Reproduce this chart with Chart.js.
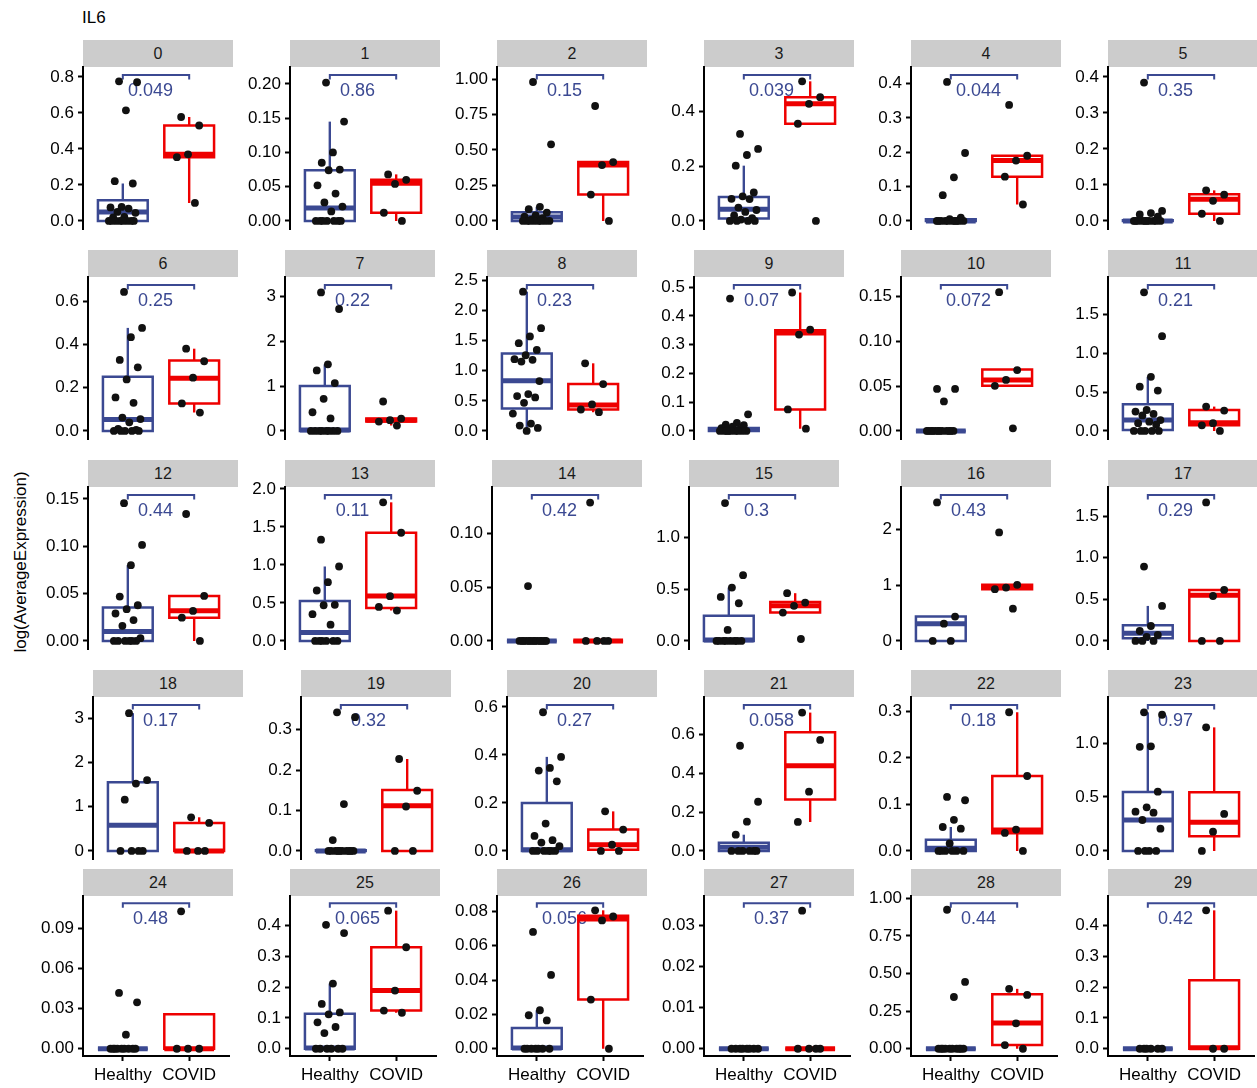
<!DOCTYPE html>
<html><head><meta charset="utf-8">
<script src="https://cdn.jsdelivr.net/npm/chart.js@4.4.0/dist/chart.umd.min.js"></script>
<style>
html,body{margin:0;padding:0;background:#fff;}
body{width:1257px;height:1088px;position:relative;overflow:hidden;font-family:"Liberation Sans",Arial,Helvetica,sans-serif;}
.strip{position:absolute;background:#cccccc;color:#1a1a1a;font-size:16px;text-align:center;height:27px;line-height:27px;}
.cv{position:absolute;}
#title{position:absolute;left:82px;top:8px;font-size:17px;line-height:20px;color:#000;}
#ytitle{position:absolute;left:21px;top:562px;font-size:17px;color:#000;white-space:nowrap;transform:translate(-50%,-50%) rotate(-90deg);}
</style></head><body>
<div id="title">IL6</div>
<div id="ytitle">log(AverageExpression)</div>
<script>
// ---------------- DATA ----------------
const clusters = ['0','1','2','3','4','5','6','7','8','9','10','11','12','13','14','15','16','17','18','19','20','21','22','23','24','25','26','27','28','29'];
const groups = ['Healthy','COVID'];
const pValues = ['0.049','0.86','0.15','0.039','0.044','0.35','0.25','0.22','0.23','0.07','0.072','0.21','0.44','0.11','0.42','0.3','0.43','0.29','0.17','0.32','0.27','0.058','0.18','0.97','0.48','0.065','0.056','0.37','0.44','0.42'];
const bracketY = [0.81,0.213,1.028,0.533,0.425,0.405,0.674,3.254,2.42,0.507,0.163,1.879,0.154,1.92,0.136,1.405,2.617,1.753,3.293,0.361,0.608,0.753,0.3135,1.352,0.109,0.473,0.0847,0.0355,0.967,0.473];
const yTickLabels = [
 ['0.0','0.2','0.4','0.6','0.8'],['0.00','0.05','0.10','0.15','0.20'],['0.00','0.25','0.50','0.75','1.00'],['0.0','0.2','0.4'],['0.0','0.1','0.2','0.3','0.4'],['0.0','0.1','0.2','0.3','0.4'],
 ['0.0','0.2','0.4','0.6'],['0','1','2','3'],['0.0','0.5','1.0','1.5','2.0','2.5'],['0.0','0.1','0.2','0.3','0.4','0.5'],['0.00','0.05','0.10','0.15'],['0.0','0.5','1.0','1.5'],
 ['0.00','0.05','0.10','0.15'],['0.0','0.5','1.0','1.5','2.0'],['0.00','0.05','0.10'],['0.0','0.5','1.0'],['0','1','2'],['0.0','0.5','1.0','1.5'],
 ['0','1','2','3'],['0.0','0.1','0.2','0.3'],['0.0','0.2','0.4','0.6'],['0.0','0.2','0.4','0.6'],['0.0','0.1','0.2','0.3'],['0.0','0.5','1.0'],
 ['0.00','0.03','0.06','0.09'],['0.0','0.1','0.2','0.3','0.4'],['0.00','0.02','0.04','0.06','0.08'],['0.00','0.01','0.02','0.03'],['0.00','0.25','0.50','0.75','1.00'],['0.0','0.1','0.2','0.3','0.4']
];
const healthyValues = [
 [0.775,0.77,0.614,0.221,0.208,0.078,0.075,0.069,0.05,0.045,0.022,0.02,0,0,0,0,0,0,0,0],
 [0.202,0.145,0.1,0.085,0.075,0.074,0.052,0.04,0.027,0.021,0.014,0,0,0,0,0,0,0],
 [0.979,0.54,0.1,0.083,0.059,0.04,0.03,0.02,0.01,0,0,0,0,0,0,0,0],
 [0.318,0.263,0.241,0.202,0.104,0.09,0.081,0.08,0.049,0.04,0.033,0.02,0.01,0.005,0,0,0,0],
 [0.405,0.198,0.127,0.075,0.01,0.005,0,0,0,0,0,0,0,0,0,0],
 [0.384,0.028,0.022,0.018,0.012,0,0,0,0,0,0,0,0,0,0],
 [0.642,0.476,0.433,0.328,0.294,0.238,0.155,0.13,0.062,0.055,0.04,0.01,0.005,0,0,0,0,0],
 [3.09,2.72,1.485,1.35,1.067,0.716,0.418,0.28,0,0,0,0,0,0,0,0],
 [2.31,1.705,1.567,1.455,1.344,1.256,1.19,1.18,1.15,0.828,0.611,0.578,0.556,0.467,0.289,0.122,0.089,0.05,0],
 [0.46,0.058,0.028,0.022,0.02,0.015,0.01,0.005,0,0,0,0,0,0,0,0,0],
 [0.047,0.047,0.033,0,0,0,0,0,0,0,0,0,0,0,0],
 [1.785,1.22,0.697,0.57,0.52,0.27,0.25,0.22,0.2,0.14,0.12,0.1,0.08,0,0,0,0,0],
 [0.1454,0.1014,0.08,0.0468,0.0377,0.0335,0.029,0.022,0.016,0.003,0,0,0,0,0,0],
 [1.332,0.98,0.774,0.664,0.475,0.47,0.352,0.215,0,0,0,0,0,0],
 [0.0512,0,0,0,0,0,0,0,0,0,0,0,0,0],
 [1.328,0.633,0.514,0.424,0.363,0.106,0,0,0,0,0,0,0,0],
 [2.485,0.437,0.31,0,0],
 [0.894,0.421,0.18,0.12,0.072,0.05,0,0,0],
 [3.11,1.6,1.52,1.158,0,0,0,0],
 [0.343,0.331,0.116,0.027,0,0,0,0,0,0,0,0,0,0],
 [0.578,0.392,0.346,0.335,0.29,0.114,0.0625,0.045,0.035,0.02,0,0,0,0,0,0],
 [0.543,0.254,0.151,0.084,0,0,0,0,0,0],
 [0.116,0.109,0.067,0.0515,0.048,0.016,0,0,0,0,0,0],
 [1.284,1.262,0.969,0.965,0.549,0.404,0.364,0.355,0.287,0.207,0,0,0,0],
 [0.0418,0.0348,0.0105,0,0,0,0,0,0,0,0,0],
 [0.403,0.376,0.212,0.1457,0.118,0.112,0.086,0.0707,0.051,0,0,0,0,0,0],
 [0.068,0.043,0.0224,0.0195,0.0165,0,0,0,0,0,0,0],
 [0,0,0,0,0,0,0,0],
 [0.924,0.444,0.344,0,0,0,0,0,0,0,0,0,0],
 [0,0,0,0,0,0]
];
const covidValues = [
 [0.577,0.53,0.37,0.354,0.1],[0.068,0.06,0.054,0.012,0],[0.81,0.415,0.394,0.186,0],[0.51,0.452,0.428,0.355,0],[0.338,0.19,0.176,0.129,0.048],[0.085,0.073,0.056,0.02,0],
 [0.38,0.322,0.246,0.127,0.085],[0.657,0.276,0.24,0.21,0.12],[1.122,0.778,0.44,0.356,0.311],[0.481,0.352,0.335,0.075,0.008],[0.155,0.068,0.057,0.0504,0.003],[0.314,0.262,0.1,0.073,0],
 [0.134,0.0475,0.0317,0.0246,0],[1.824,1.424,0.589,0.448,0.4],[0.129,0,0,0,0],[0.46,0.37,0.338,0.273,0.019],[1.946,1.006,0.958,0.928,0.58],[1.664,0.613,0.54,0,0],
 [0.76,0.632,0,0,0],[0.2275,0.149,0.11,0,0],[0.165,0.089,0.026,0,0],[0.714,0.573,0.306,0.15],[0.298,0.161,0.046,0.0387,0],[1.145,0.343,0.179,0],
 [0.103,0,0,0],[0.449,0.33,0.189,0.124,0.117],[0.0806,0.077,0.0747,0.0286,0],[0.0337,0,0,0,0],[0.398,0.358,0.169,0.024,0],[0.45,0,0]
];
// box statistics: [lower whisker, Q1, median, Q3, upper whisker]
const healthyBox = [
 [0,0,0.05,0.115,0.208],[0,0,0.019,0.074,0.145],[0,0,0.028,0.061,0.1],[0,0.0086,0.043,0.088,0.202],[0,0,0,0.005,0.01],[0,0,0,0.002,0.005],
 [0,0,0.053,0.25,0.476],[0,0,0.02,1.0,1.485],[0,0.372,0.833,1.283,2.31],[0,0,0.005,0.01,0.028],[0,0,0,0,0],[0,0.013,0.142,0.344,0.697],
 [0,0,0.0099,0.0352,0.08],[0,0,0.11,0.527,0.98],[0,0,0,0,0],[0,0,0.01,0.244,0.514],[0,0,0.31,0.437,0.437],[0,0.032,0.092,0.19,0.421],
 [0,0,0.58,1.55,3.11],[0,0,0,0.002,0.002],[0,0,0.005,0.2,0.392],[0,0,0.019,0.043,0.084],[0,0,0.006,0.024,0.0515],[0,0,0.287,0.546,1.284],
 [0,0,0,0,0],[0,0,0.002,0.114,0.212],[0,0,0.0004,0.012,0.0224],[0,0,0,0,0],[0,0,0,0,0],[0,0,0,0,0]
];
const covidBox = [
 [0.1,0.354,0.37,0.53,0.577],[0,0.012,0.055,0.06,0.068],[0,0.186,0.394,0.415,0.415],[0.355,0.355,0.428,0.452,0.51],[0.048,0.129,0.176,0.19,0.19],[0,0.02,0.06,0.074,0.085],
 [0.085,0.127,0.243,0.325,0.38],[0.12,0.21,0.24,0.276,0.276],[0.311,0.356,0.43,0.778,1.122],[0.008,0.075,0.34,0.35,0.481],[0.0504,0.0504,0.057,0.0687,0.0687],[0,0.073,0.107,0.27,0.314],
 [0,0.0246,0.032,0.0475,0.0475],[0.4,0.435,0.593,1.424,1.824],[0,0,0,0,0],[0.273,0.273,0.338,0.375,0.46],[0.928,0.928,0.958,1.006,1.006],[0,0,0.55,0.613,0.613],
 [0,0,0,0.632,0.76],[0,0,0.112,0.151,0.2275],[0,0.005,0.026,0.089,0.165],[0.15,0.265,0.44,0.612,0.714],[0,0.038,0.045,0.161,0.298],[0,0.136,0.265,0.543,1.145],
 [0,0,0,0.0258,0.0258],[0.117,0.124,0.189,0.33,0.449],[0,0.0286,0.0755,0.0775,0.0806],[0,0,0,0,0],[0,0.024,0.171,0.362,0.398],[0,0,0.003,0.223,0.45]
];

// ---------------- LAYOUT / STYLE ----------------
const AXIS_X = [
 [83,290,497,704,911,1108],
 [88,285,487,694,901,1108],
 [88,285,492,689,901,1108],
 [93,301,507,704,911,1108],
 [83,290,497,704,911,1108]
];
const STRIP_TOP = [40,250,460,670,869];
const STRIP_H = 27;
const PLOT_H = [162,162,162,162,160];
const EXPAND = [0.055,0.055,0.055,0.055,0.05];
const PW = 150, AXW = 58, PAD = 16, XAXH = 33;
const BLUE = '#3B4992', RED = '#EE0000', DOT = '#111111';
const HALF = 0.375;
const FONT = '"Liberation Sans", Arial, Helvetica, sans-serif';
Chart.defaults.font.family = FONT;

// deterministic horizontal spread of dots (visual jitter only)
function spread(i){ return (((i * 0.6180339887 + 0.37) % 1) - 0.5) * 0.44; }

function seg(pts, color, w, order){
  return {data: pts, showLine: true, borderColor: color, borderWidth: w, pointRadius: 0, pointHitRadius: 0,
          order: order, borderCapStyle: 'butt', borderJoinStyle: 'miter', fill: false};
}
function boxSets(xc, b, color){
  const [lo,q1,med,q3,hi] = b;
  return [
    seg([{x:xc,y:q1},{x:xc+HALF,y:q1},{x:xc+HALF,y:q3},{x:xc-HALF,y:q3},{x:xc-HALF,y:q1},{x:xc,y:q1}], color, 2.5, 3),
    seg([{x:xc,y:q3},{x:xc,y:hi}], color, 2.4, 3),
    seg([{x:xc,y:q1},{x:xc,y:lo}], color, 2.4, 3),
    seg([{x:xc-HALF,y:med},{x:xc+HALF,y:med}], color, 5, 2)
  ];
}

const pLabelPlugin = {
  id: 'pLabel',
  beforeDatasetsDraw(chart, args, opts){
    const {ctx, scales} = chart;
    ctx.save();
    ctx.font = '18px ' + FONT;
    ctx.fillStyle = BLUE;
    ctx.textAlign = 'center';
    ctx.textBaseline = 'middle';
    ctx.fillText(opts.text, scales.x.getPixelForValue(1.5) - 5.5, scales.y.getPixelForValue(opts.y) + 16);
    ctx.restore();
  }
};

clusters.forEach((name, i) => {
  const row = Math.floor(i / 6), col = i % 6;
  const ax = AXIS_X[row][col];
  const plotTop = STRIP_TOP[row] + STRIP_H;
  const bottomRow = row === 4;

  const strip = document.createElement('div');
  strip.className = 'strip';
  strip.style.left = ax + 'px';
  strip.style.top = STRIP_TOP[row] + 'px';
  strip.style.width = PW + 'px';
  strip.textContent = name;
  document.body.appendChild(strip);

  const cv = document.createElement('canvas');
  cv.className = 'cv';
  const H = PAD + PLOT_H[row] + (bottomRow ? XAXH : PAD);
  cv.width = AXW + PW; cv.height = H;
  cv.style.left = (ax - AXW) + 'px';
  cv.style.top = (plotTop - PAD) + 'px';
  document.body.appendChild(cv);

  const T = bracketY[i];
  const e = EXPAND[row];
  const tip = 0.03 * T;
  const labels = yTickLabels[i];
  const tickVals = labels.map(Number);

  const hPts = healthyValues[i].map((v, k) => ({x: 1 + spread(k), y: v}));
  const cPts = covidValues[i].map((v, k) => ({x: 2 + spread(k + 3), y: v}));

  const datasets = [
    {data: hPts.concat(cPts), showLine: false, pointRadius: 3.9, pointBackgroundColor: DOT, backgroundColor: DOT,
     pointBorderWidth: 0, borderWidth: 0, order: 0},
    ...boxSets(1, healthyBox[i], BLUE),
    ...boxSets(2, covidBox[i], RED),
    seg([{x:1,y:T-tip},{x:1,y:T},{x:2,y:T},{x:2,y:T-tip}], BLUE, 2, 4)
  ];

  new Chart(cv, {
    type: 'scatter',
    data: {datasets},
    plugins: [pLabelPlugin],
    options: {
      responsive: false, animation: false, devicePixelRatio: 1, events: [],
      layout: {padding: {top: PAD, bottom: bottomRow ? 0 : PAD, left: 0, right: 0}},
      plugins: {legend: {display: false}, tooltip: {enabled: false}, pLabel: {text: pValues[i], y: T}},
      scales: {
        x: {
          type: 'linear', min: 0.4, max: 2.6, display: bottomRow,
          afterBuildTicks: s => { s.ticks = [{value: 1}, {value: 2}]; },
          afterFit: s => { s.height = bottomRow ? XAXH : 0; },
          ticks: {callback: (v, k) => groups[k], color: '#000', font: {size: 17, family: FONT}, padding: 4, maxRotation: 0, autoSkip: false},
          grid: {display: true, drawOnChartArea: false, drawTicks: true, tickLength: 5, tickWidth: 2, tickColor: '#000'},
          border: {display: true, color: '#000', width: 2}
        },
        y: {
          type: 'linear', min: -e * T, max: (1 + e) * T,
          afterBuildTicks: s => { s.ticks = tickVals.map(v => ({value: v})); },
          afterFit: s => { s.width = AXW; },
          ticks: {callback: (v, k) => labels[k], color: '#000', font: {size: 17, family: FONT}, padding: 4, autoSkip: false},
          grid: {display: true, drawOnChartArea: false, drawTicks: true, tickLength: 5, tickWidth: 2, tickColor: '#000'},
          border: {display: true, color: '#000', width: 2}
        }
      }
    }
  });
});
</script>
</body></html>
